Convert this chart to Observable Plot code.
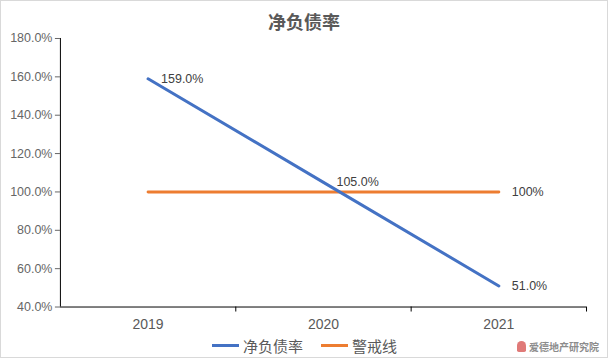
<!DOCTYPE html>
<html>
<head>
<meta charset="utf-8">
<script src="https://cdn.jsdelivr.net/npm/d3@7"></script>
<script src="https://cdn.jsdelivr.net/npm/@observablehq/plot@0.6"></script>
<style>
  html, body { margin: 0; padding: 0; background: #fff; }
  #wrap { position: relative; width: 606px; height: 356px; border: 1px solid #d9d9d9; background: #fff; overflow: hidden;
          font-family: "Liberation Sans", Arial, "Noto Sans CJK SC", sans-serif; }
  #title { position: absolute; left: 0; top: 7px; width: 606px; text-align: center; font-size: 18px; font-weight: bold;
           color: #595959; font-family: "Noto Sans CJK SC", sans-serif; }
  #chart { position: absolute; left: -1px; top: 29px; }
  #legend { position: absolute; left: 211px; top: 334px; display: flex; gap: 18px;
            font-size: 15px; color: #595959; font-family: "Noto Sans CJK SC", sans-serif; }
  .item { display: flex; align-items: center; gap: 4px; }
  .swatch { display: inline-block; width: 27px; height: 3px; }
  #wm { position: absolute; right: 8px; top: 338px; display: flex; align-items: center; gap: 3px; font-size: 10px; color: #8c8c8c;
        font-family: "Noto Sans CJK SC", sans-serif; font-weight: bold; }
  #wm .icon { width: 9px; height: 11px; border-radius: 5px 5px 2px 2px; background: #e07a78; }
</style>
</head>
<body>
<div id="wrap">
  <div id="title">净负债率</div>
  <div id="chart"></div>
  <div id="legend"></div>
  <div id="wm"><span class="icon"></span><span>爱德地产研究院</span></div>
</div>
<script>
const years = [2019, 2020, 2021];
const netDebtRatio = [159.0, 105.0, 51.0];
const warningLine = [100, 100, 100];
const yTicks = [40, 60, 80, 100, 120, 140, 160, 180];
const seriesNames = ["净负债率", "警戒线"];
const seriesColors = ["#4472C4", "#ED7D31"];
const netLabels = ["159.0%", "105.0%", "51.0%"];
const warnLabel = "100%";

const netData = years.map((y, i) => ({year: y, value: netDebtRatio[i], label: netLabels[i]}));
const warnData = years.map((y, i) => ({year: y, value: warningLine[i]}));
const boundaries = [years[0] - 0.5, ...years.map(y => y + 0.5)];

const plot = Plot.plot({
  width: 608,
  height: 305,
  marginLeft: 60,
  marginRight: 21,
  marginTop: 8,
  marginBottom: 28,
  style: {fontFamily: "'Liberation Sans', Arial, sans-serif", background: "transparent"},
  x: {type: "linear", domain: [years[0] - 0.5, years[years.length - 1] + 0.5], label: null},
  y: {domain: [40, 180], label: null},
  marks: [
    Plot.axisY({ticks: yTicks, tickSize: 5, tickFormat: d => d.toFixed(1) + "%", fontSize: 12.5, color: "#666", tickPadding: 3, label: null}),
    Plot.axisX({ticks: boundaries.slice(1), tickSize: 5, tickFormat: () => "", stroke: "#000", label: null}),
    Plot.axisX({ticks: years, tickSize: 0, tickFormat: d => String(d), fontSize: 14, color: "#595959", tickPadding: 12, label: null}),
    Plot.ruleX([boundaries[0]], {stroke: "#000", strokeWidth: 1}),
    Plot.ruleY([40], {stroke: "#000", strokeWidth: 1}),
    Plot.line(warnData, {x: "year", y: "value", stroke: seriesColors[1], strokeWidth: 3}),
    Plot.line(netData, {x: "year", y: "value", stroke: seriesColors[0], strokeWidth: 3}),
    Plot.text(netData, {x: "year", y: "value", text: "label", textAnchor: "start", dx: 13, fontSize: 12.5, fill: "#404040"}),
    Plot.text([warnData[2]], {x: "year", y: "value", text: () => warnLabel, textAnchor: "start", dx: 13, fontSize: 12.5, fill: "#404040"})
  ]
});
document.getElementById("chart").appendChild(plot);

const legend = document.getElementById("legend");
seriesNames.forEach((name, i) => {
  const item = document.createElement("span");
  item.className = "item";
  const sw = document.createElement("span");
  sw.className = "swatch";
  sw.style.background = seriesColors[i];
  const t = document.createElement("span");
  t.textContent = name;
  item.appendChild(sw);
  item.appendChild(t);
  legend.appendChild(item);
});
</script>
</body>
</html>
